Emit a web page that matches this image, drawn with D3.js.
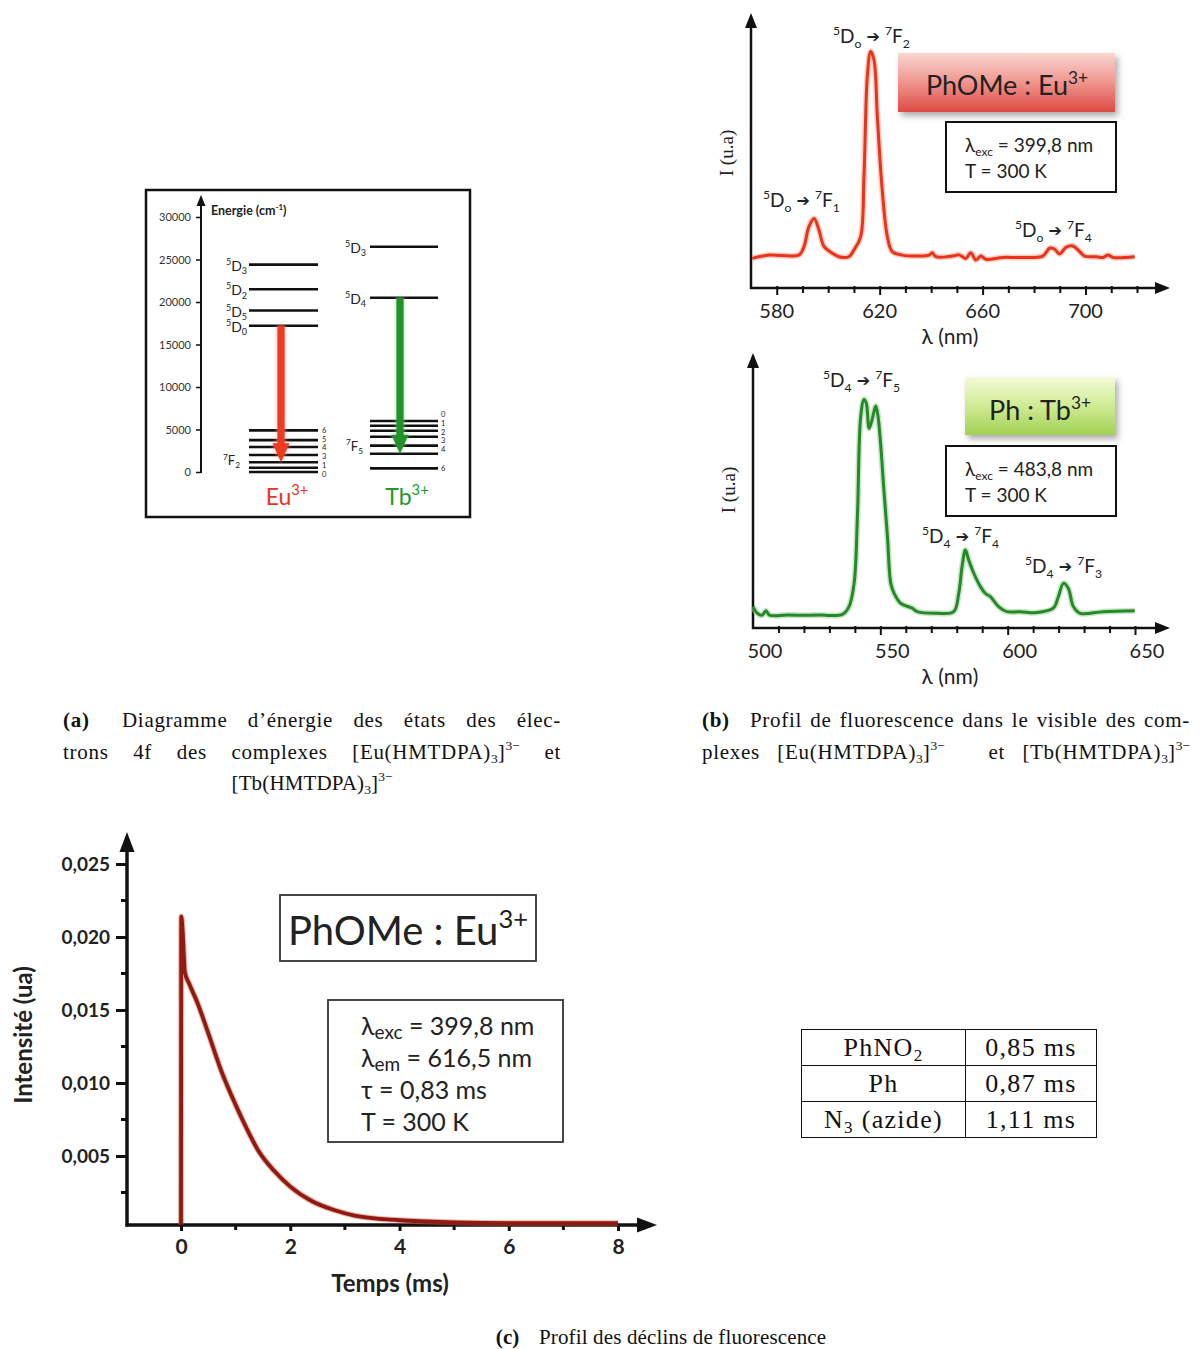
<!DOCTYPE html>
<html><head><meta charset="utf-8">
<script src="https://cdn.jsdelivr.net/npm/d3@7"></script>
<style>
body{margin:0;background:#fff;}
#wrap{position:relative;width:1200px;height:1349px;overflow:hidden;background:#fff;}
svg{position:absolute;left:0;top:0;}
svg text{white-space:pre;}
.cap{position:absolute;font-family:"Liberation Serif","Times New Roman",serif;font-size:21px;letter-spacing:0.15px;line-height:31.5px;color:#111;}
.cap div{white-space:nowrap;}
.just{text-align:justify;text-align-last:justify;letter-spacing:0.7px;}
.cap sup{font-size:13.5px;vertical-align:9px;line-height:0;letter-spacing:0;}
.cap sub{font-size:13.5px;vertical-align:-4px;line-height:0;letter-spacing:0;}
.sp{display:inline-block;}
table.tau{position:absolute;left:801px;top:1029px;border-collapse:collapse;font-family:"Liberation Serif","Times New Roman",serif;font-size:26px;letter-spacing:1.3px;color:#111;}
table.tau td{border:1.2px solid #111;height:35px;padding:0;text-align:center;line-height:35px;}
table.tau sub{font-size:17px;vertical-align:-5px;line-height:0;}
</style></head>
<body><div id="wrap"></div>
<script>
// ---------------- DATA ----------------
// (a) energy diagram (cm-1)
const energyTicks = [0, 5000, 10000, 15000, 20000, 25000, 30000];
const euLevelsD = [17200, 19000, 21500, 24400];
const euLabelsD = ['0', '5', '2', '3'];
const euLevelsF = [0, 500, 1150, 2000, 2950, 3750, 4900];
const euLabelsF = ['0', '1', '', '3', '4', '5', '6'];
const tbLevelsD = [20500, 26500];
const tbLabelsD = ['4', '3'];
const tbLevelsF = [6000, 5450, 4860, 4150, 3100, 2150, 430];
const tbLabelsF = ['0', '1', '2', '3', '4', '', '6'];
const euTransition = [17200, 1150];
const tbTransition = [20500, 2150];

// (b) emission spectra
const redLambda = [570.5, 577, 588.7, 590.6, 592.5, 594.5, 596.4, 598.4, 601.6, 604.2, 608, 610, 612.6, 613.9, 615.2, 616.5, 617.8, 619.1, 621, 623, 624.9, 628.8, 635.3, 639.2, 640.5, 641.8, 648.3, 650.9, 653.5, 655.4, 657.4, 659.3, 661.3, 667.8, 674.3, 683.4, 686, 688, 689.9, 692.5, 695.1, 697.7, 699.6, 704.2, 706.8, 708.7, 710.7, 719.1];
const redI = [12.6, 14.0, 14.1, 17.6, 26.1, 29.6, 24.7, 17.6, 14.8, 13.3, 13.3, 16.2, 21.8, 47.4, 89.9, 100.6, 97, 72.9, 41.7, 21.8, 15.5, 14, 13.6, 14, 15, 13.3, 13.6, 14.1, 12.6, 15, 11.9, 13.6, 12.2, 13, 13, 13.6, 16.9, 16.5, 14.5, 17.4, 17.9, 15.5, 13.6, 13.3, 13, 14, 13, 13.3];
const redTicks = [580, 590, 600, 610, 620, 630, 640, 650, 660, 670, 680, 690, 700, 710, 720];
const redTickLabels = [580, 620, 660, 700];

const greenLambda = [500, 501.7, 503.6, 505.1, 506.4, 513.6, 526.7, 535.1, 537.7, 539.7, 541, 542.3, 543.6, 544.5, 545.6, 546.9, 548.2, 549.1, 550.1, 551.4, 552.8, 554.1, 555.4, 558, 562.6, 564.5, 572.3, 578.8, 580.8, 582.1, 583.4, 584.7, 586.7, 589.3, 591.2, 593.2, 596.4, 599.7, 604.9, 611.4, 617.9, 619.9, 621.9, 623.8, 625.8, 628.4, 637.5, 649.9];
const greenI = [9.3, 6.4, 5.6, 7.5, 5.6, 5.6, 5.6, 5.9, 9.3, 19.4, 48.4, 91.9, 99.4, 97.7, 86.8, 91.2, 96.5, 91.9, 80.3, 60, 39.7, 19.4, 15.1, 10.7, 8.6, 7.1, 6.4, 7.1, 15.1, 26.7, 33.9, 29.6, 23.8, 18, 15.1, 13.6, 9.3, 7.1, 7.1, 6.7, 8.6, 13.6, 19.4, 17.3, 9.3, 6.4, 7.1, 7.5];
const greenTicks = [510, 520, 530, 540, 550, 560, 570, 580, 590, 600, 610, 620, 630, 640, 650];
const greenTickLabels = [500, 550, 600, 650];

// (c) decay
const decayT = [0, 0.005, 0.03, 0.07, 0.15, 0.3, 0.5, 0.75, 1.0, 1.2, 1.41, 1.7, 2.0, 2.4, 2.8, 3.2, 4.0, 5.0, 6.0, 8.0];
const decayI = [0.0003, 0.0214, 0.0204, 0.0176, 0.0168, 0.0155, 0.0134, 0.0107, 0.0085, 0.0069, 0.0054, 0.0040, 0.0029, 0.0019, 0.0013, 0.0009, 0.0006, 0.00045, 0.0004, 0.0004];
const decayYTicks = [0.005, 0.010, 0.015, 0.020, 0.025];
const decayYMinor = [0.0025, 0.0075, 0.0125, 0.0175, 0.0225];
const decayXTicks = [0, 2, 4, 6, 8];
const decayXMinor = [1, 3, 5, 7];

// table
const tableRows = [['PhNO<sub>2</sub>', '0,85 ms'], ['Ph', '0,87 ms'], ['N<sub>3</sub> (azide)', '1,11 ms']];

// ---------------- DRAW ----------------
const wrap = d3.select('#wrap');
const svg = wrap.append('svg').attr('width', 1200).attr('height', 1349);
const defs = svg.append('defs');
function lg(id, stops) {
  const g = defs.append('linearGradient').attr('id', id).attr('x1', 0).attr('y1', 0).attr('x2', 0).attr('y2', 1);
  stops.forEach(([o, c]) => g.append('stop').attr('offset', o).attr('stop-color', c));
}
lg('gRed', [[0, '#f9d6d1'], [0.45, '#f19c95'], [1, '#dd4a44']]);
lg('gGreen', [[0, '#f3fbd8'], [0.45, '#d3ed9b'], [1, '#a2d052']]);
const sh = defs.append('filter').attr('id', 'shadow').attr('x', '-10%').attr('y', '-10%').attr('width', '130%').attr('height', '150%');
sh.append('feDropShadow').attr('dx', 3).attr('dy', 4).attr('stdDeviation', 3).attr('flood-color', '#666').attr('flood-opacity', 0.55);
defs.append('filter').attr('id', 'blur').attr('x', '-50%').attr('y', '-20%').attr('width', '200%').attr('height', '140%')
  .append('feGaussianBlur').attr('stdDeviation', 2);

const SANS = 'Lato, "Open Sans", sans-serif';
const SERIF = '"Liberation Serif", "Times New Roman", serif';

function rich(sel, parts, fs) {
  let cur = 0;
  parts.forEach(p => {
    const [t, s] = Array.isArray(p) ? p : [p, null];
    const target = s === 'sup' ? -0.42 * fs : s === 'sub' ? 0.24 * fs : 0;
    sel.append('tspan').attr('dy', target - cur).attr('font-size', s ? fs * 0.64 : fs).text(t);
    cur = target;
  });
  return sel;
}
function headUp(g, x, tipY, w, l) {
  g.append('path').attr('d', `M${x},${tipY} L${x - w / 2},${tipY + l} L${x + w / 2},${tipY + l} Z`).attr('fill', '#111');
}
function headRight(g, tipX, y, w, l) {
  g.append('path').attr('d', `M${tipX},${y} L${tipX - l},${y - w / 2} L${tipX - l},${y + w / 2} Z`).attr('fill', '#111');
}

// ===== Panel (a) =====
(function () {
  const g = svg.append('g');
  g.append('rect').attr('x', 146).attr('y', 190).attr('width', 324).attr('height', 327)
    .attr('fill', 'none').attr('stroke', '#111').attr('stroke-width', 2.5);
  const yE = d3.scaleLinear().domain([0, 30000]).range([472, 217]);
  const ax = g.append('g').attr('transform', 'translate(201,0)')
    .call(d3.axisLeft(yE).tickValues(energyTicks).tickSize(5).tickPadding(5).tickFormat(d3.format('d')));
  ax.select('.domain').remove();
  ax.selectAll('line').attr('stroke', '#111').attr('stroke-width', 1.5);
  ax.selectAll('text').attr('font-family', SANS).attr('font-size', 11).attr('fill', '#333');
  g.append('line').attr('x1', 201).attr('x2', 201).attr('y1', yE(0) + 1).attr('y2', 205).attr('stroke', '#111').attr('stroke-width', 2);
  headUp(g, 201, 195, 9, 11);
  rich(g.append('text').attr('x', 211).attr('y', 215).attr('font-family', SANS).attr('font-weight', 700).attr('fill', '#222'),
    ['Energie (cm', ['-1', 'sup'], ')'], 12.5);

  function levels(vals, x1, x2) {
    g.append('g').selectAll('line').data(vals).join('line')
      .attr('x1', x1).attr('x2', x2).attr('y1', d => yE(d)).attr('y2', d => yE(d))
      .attr('stroke', '#111').attr('stroke-width', 2.6);
  }
  levels(euLevelsD, 249, 318);
  levels(euLevelsF, 249, 318);
  levels(tbLevelsD, 370, 438);
  levels(tbLevelsF, 370, 438);

  function dLabel(x, e, sub) {
    rich(g.append('text').attr('x', x).attr('y', yE(e) + 6).attr('text-anchor', 'end')
      .attr('font-family', SANS).attr('fill', '#222'), [['5', 'sup'], 'D', [sub, 'sub']], 14);
  }
  euLevelsD.forEach((e, i) => dLabel(247, e, euLabelsD[i]));
  tbLevelsD.forEach((e, i) => dLabel(366, e, tbLabelsD[i]));
  function fLabels(vals, labs, x, spread) {
    const items = vals.map((v, i) => ({ y0: yE(v), t: labs[i] })).filter(d => d.t !== '').sort((a, b) => a.y0 - b.y0);
    let clusters = items.map(d => [d]);
    const place = c => { const m = d3.mean(c, d => d.y0); c.forEach((d, i) => d.y = m + (i - (c.length - 1) / 2) * spread); };
    clusters.forEach(place);
    let merged = true;
    while (merged) {
      merged = false;
      for (let i = 1; i < clusters.length; i++) {
        const a = clusters[i - 1], b = clusters[i];
        if (b[0].y - a[a.length - 1].y < spread) {
          const c = a.concat(b); place(c); clusters.splice(i - 1, 2, c); merged = true; break;
        }
      }
    }
    g.append('g').selectAll('text').data(items).join('text')
      .attr('x', x).attr('y', d => d.y + 2.7)
      .attr('font-family', SANS).attr('font-size', 7.5).attr('fill', '#222').text(d => d.t);
  }
  fLabels(euLevelsF, euLabelsF, 322, 8.6);
  fLabels(tbLevelsF, tbLabelsF, 441, 8.6);
  rich(g.append('text').attr('x', 240).attr('y', yE(euLevelsF[2]) + 3).attr('text-anchor', 'end')
    .attr('font-family', SANS).attr('fill', '#222'), [['7', 'sup'], 'F', ['2', 'sub']], 13);
  rich(g.append('text').attr('x', 363).attr('y', yE(tbLevelsF[4]) + 5).attr('text-anchor', 'end')
    .attr('font-family', SANS).attr('fill', '#222'), [['7', 'sup'], 'F', ['5', 'sub']], 13);

  function bigArrow(x, e1, e2, col, halo) {
    const y1 = yE(e1), y2 = yE(e2), hw = 8.5, hl = 19, sw = 3.6;
    const d = `M${x - sw},${y1} L${x + sw},${y1} L${x + sw},${y2 - hl} L${x + hw},${y2 - hl} L${x},${y2} L${x - hw},${y2 - hl} L${x - sw},${y2 - hl} Z`;
    g.append('path').attr('d', d).attr('fill', halo).attr('filter', 'url(#blur)').attr('opacity', 0.8);
    g.append('path').attr('d', d).attr('fill', col);
  }
  bigArrow(281, euTransition[0], euTransition[1], '#ef3a22', '#f6a090');
  bigArrow(400, tbTransition[0], tbTransition[1], '#23912a', '#8fd090');

  rich(g.append('text').attr('x', 287).attr('y', 505).attr('text-anchor', 'middle').attr('font-family', SANS).attr('fill', '#e8352a'),
    ['Eu', ['3+', 'sup']], 23);
  rich(g.append('text').attr('x', 407).attr('y', 505).attr('text-anchor', 'middle').attr('font-family', SANS).attr('fill', '#229a2a'),
    ['Tb', ['3+', 'sup']], 23);
})();

// ===== Panel (b) spectra =====
function spectrum(opt) {
  const g = svg.append('g');
  const x = d3.scaleLinear().domain(opt.xDomain).range(opt.xRange);
  const y = d3.scaleLinear().domain([0, 100]).range(opt.yRange);
  const axY = opt.yRange[0];
  const ax = g.append('g').attr('transform', `translate(0,${axY})`)
    .call(d3.axisBottom(x).tickValues(opt.ticks).tickSize(5).tickFormat(''));
  ax.select('.domain').remove();
  ax.selectAll('line').attr('stroke', '#111').attr('stroke-width', 2).attr('y1', -2)
    .attr('y2', d => opt.labels.includes(d) ? 7 : 5);
  g.append('g').selectAll('text').data(opt.labels).join('text')
    .attr('x', d => x(d) + opt.labelDx).attr('y', axY + 30).attr('text-anchor', 'middle')
    .attr('font-family', SANS).attr('font-size', 20).attr('fill', '#222').text(d => d);
  const x0 = opt.xRange[0];
  g.append('line').attr('x1', x0).attr('x2', x0).attr('y1', axY + 1).attr('y2', opt.yTop + 12).attr('stroke', '#111').attr('stroke-width', 2.5);
  headUp(g, x0, opt.yTop, 12, 15);
  g.append('line').attr('x1', x0 - 1).attr('x2', opt.xEnd - 12).attr('y1', axY).attr('y2', axY).attr('stroke', '#111').attr('stroke-width', 2.5);
  headRight(g, opt.xEnd, axY, 12, 15);
  const line = d3.line().x(d => x(d[0])).y(d => y(d[1])).curve(d3.curveCatmullRom.alpha(0.5));
  const pts = opt.lam.map((l, i) => [l, opt.I[i]]);
  g.append('path').attr('d', line(pts)).attr('fill', 'none').attr('stroke', opt.halo).attr('stroke-width', 6).attr('opacity', 0.55).attr('stroke-linejoin', 'round');
  g.append('path').attr('d', line(pts)).attr('fill', 'none').attr('stroke', opt.color).attr('stroke-width', 3).attr('stroke-linejoin', 'round');
  g.append('text').attr('transform', `translate(${x0 - 18},${opt.yLabelY}) rotate(-90)`).attr('text-anchor', 'middle')
    .attr('font-family', SERIF).attr('font-size', 19).attr('fill', '#222').text('I (u.a)');
  g.append('text').attr('x', 950).attr('y', axY + 56).attr('text-anchor', 'middle')
    .attr('font-family', SANS).attr('font-size', 21).attr('fill', '#222').text('λ (nm)');
  return g;
}
function peakLabel(g, xp, yp, d, f) {
  const fs = 19;
  const t = g.append('text').attr('x', xp).attr('y', yp).attr('font-family', SANS).attr('fill', '#222');
  const parts = [['5', 'sup'], ['D', null], [d, 'sub'], [' ➔ ', 'arrow'], ['7', 'sup'], ['F', null], [f, 'sub']];
  let cur = 0;
  parts.forEach(([tx, s]) => {
    const target = s === 'sup' ? -0.42 * fs : s === 'sub' ? 0.24 * fs : s === 'arrow' ? -1 : 0;
    const ts = t.append('tspan').attr('dy', target - cur).attr('font-size', (s === 'sup' || s === 'sub') ? fs * 0.64 : fs).text(tx);
    if (s === 'arrow') ts.attr('font-size', 16).attr('font-family', '"DejaVu Sans", sans-serif');
    cur = target;
  });
}
function infoBox(g, x, yb, w, h, lam) {
  g.append('rect').attr('x', x).attr('y', yb).attr('width', w).attr('height', h).attr('fill', '#fff').attr('stroke', '#111').attr('stroke-width', 2);
  const t1 = g.append('text').attr('x', x + 19).attr('y', yb + 30).attr('font-family', SANS).attr('fill', '#222');
  t1.append('tspan').attr('font-size', 19).text('λ');
  t1.append('tspan').attr('font-size', 12).attr('dy', 4).text('exc');
  t1.append('tspan').attr('font-size', 19).attr('dy', -4).text(' = ' + lam);
  g.append('text').attr('x', x + 19).attr('y', yb + 56).attr('font-family', SANS).attr('font-size', 19).attr('fill', '#222').text('T = 300 K');
}
function titleBox(g, x, yb, w, h, fill, parts, cx, by) {
  g.append('rect').attr('x', x).attr('y', yb).attr('width', w).attr('height', h).attr('fill', fill).attr('filter', 'url(#shadow)');
  rich(g.append('text').attr('x', cx).attr('y', by).attr('text-anchor', 'middle').attr('font-family', SANS).attr('fill', '#222'), parts, 27);
}

const gR = spectrum({
  xDomain: [570, 720], xRange: [751, 1137], yRange: [288, 53], yTop: 13, xEnd: 1170,
  ticks: redTicks, labels: redTickLabels, labelDx: 0,
  lam: redLambda, I: redI, color: '#e8341c', halo: '#f8a48e', yLabelY: 153
});
peakLabel(gR, 833, 43, 'o', '2');
peakLabel(gR, 763, 207, 'o', '1');
peakLabel(gR, 1015, 237, 'o', '4');
titleBox(gR, 898, 53, 217, 59, 'url(#gRed)', ['PhOMe : Eu', ['3+', 'sup']], 1007, 95);
infoBox(gR, 946, 122, 170, 70, '399,8 nm');

const gG = spectrum({
  xDomain: [500, 650], xRange: [753, 1135], yRange: [628, 398], yTop: 353, xEnd: 1170,
  ticks: greenTicks, labels: greenTickLabels, labelDx: 12,
  lam: greenLambda, I: greenI, color: '#27882a', halo: '#98d497', yLabelY: 490
});
peakLabel(gG, 823, 387, '4', '5');
peakLabel(gG, 922, 543, '4', '4');
peakLabel(gG, 1025, 573, '4', '3');
titleBox(gG, 965, 377, 150, 58, 'url(#gGreen)', ['Ph : Tb', ['3+', 'sup']], 1040, 420);
infoBox(gG, 946, 446, 170, 70, '483,8 nm');

// ===== Panel (c) decay =====
(function () {
  const g = svg.append('g');
  const x = d3.scaleLinear().domain([-1, 8]).range([126.4, 618]);
  const y = d3.scaleLinear().domain([0, 0.025]).range([1229, 864]);
  const axY = 1225, x0 = 127;
  const fmt = d => d3.format('.3f')(d).replace('.', ',');
  const ay = g.append('g').attr('transform', `translate(${x0},0)`)
    .call(d3.axisLeft(y).tickValues(decayYTicks).tickSize(11).tickPadding(6).tickFormat(fmt));
  ay.select('.domain').remove();
  ay.selectAll('line').attr('stroke', '#111').attr('stroke-width', 3);
  ay.selectAll('text').attr('font-family', SANS).attr('font-weight', 700).attr('font-size', 19).attr('fill', '#222');
  g.append('g').selectAll('line').data(decayYMinor).join('line')
    .attr('x1', x0 - 6).attr('x2', x0).attr('y1', d => y(d)).attr('y2', d => y(d)).attr('stroke', '#111').attr('stroke-width', 3);
  const ax = g.append('g').attr('transform', `translate(0,${axY})`)
    .call(d3.axisBottom(x).tickValues(decayXTicks).tickSize(6).tickPadding(8).tickFormat(d3.format('d')));
  ax.select('.domain').remove();
  ax.selectAll('line').attr('stroke', '#111').attr('stroke-width', 3);
  ax.selectAll('text').attr('font-family', SANS).attr('font-weight', 700).attr('font-size', 21).attr('fill', '#222');
  g.append('g').selectAll('line').data(decayXMinor).join('line')
    .attr('x1', d => x(d)).attr('x2', d => x(d)).attr('y1', axY).attr('y2', axY + 5).attr('stroke', '#111').attr('stroke-width', 3);
  g.append('line').attr('x1', x0).attr('x2', x0).attr('y1', axY + 1.5).attr('y2', 848).attr('stroke', '#111').attr('stroke-width', 3.5);
  headUp(g, x0, 832, 15, 20);
  g.append('line').attr('x1', x0 - 1.5).attr('x2', 640).attr('y1', axY).attr('y2', axY).attr('stroke', '#111').attr('stroke-width', 3.5);
  headRight(g, 657, axY, 15, 20);
  const line = d3.line().x(d => x(d[0])).y(d => y(d[1])).curve(d3.curveMonotoneX);
  const pts = decayT.map((t, i) => [t, decayI[i]]);
  g.append('path').attr('d', line(pts)).attr('fill', 'none').attr('stroke', '#d9523f').attr('stroke-width', 6).attr('opacity', 0.45).attr('stroke-linejoin', 'round');
  g.append('path').attr('d', line(pts)).attr('fill', 'none').attr('stroke', '#8e1a12').attr('stroke-width', 3.8).attr('stroke-linejoin', 'round');

  g.append('text').attr('transform', 'translate(32,1035) rotate(-90)').attr('text-anchor', 'middle')
    .attr('font-family', SANS).attr('font-weight', 700).attr('font-size', 24).attr('fill', '#222').text('Intensité (ua)');
  g.append('text').attr('x', 390).attr('y', 1292).attr('text-anchor', 'middle')
    .attr('font-family', SANS).attr('font-weight', 700).attr('font-size', 24).attr('fill', '#222').text('Temps (ms)');

  g.append('rect').attr('x', 280).attr('y', 895).attr('width', 256).attr('height', 66).attr('fill', '#fff').attr('stroke', '#333').attr('stroke-width', 1.8);
  rich(g.append('text').attr('x', 408).attr('y', 945).attr('text-anchor', 'middle').attr('font-family', SANS).attr('fill', '#222'),
    ['PhOMe : Eu', ['3+', 'sup']], 40);
  g.append('rect').attr('x', 328).attr('y', 1000).attr('width', 235).attr('height', 142).attr('fill', '#fff').attr('stroke', '#333').attr('stroke-width', 1.8);
  const lines = [['exc', ' = 399,8 nm'], ['em', ' = 616,5 nm']];
  lines.forEach((l, i) => {
    const t = g.append('text').attr('x', 361).attr('y', 1035 + i * 32).attr('font-family', SANS).attr('fill', '#222');
    t.append('tspan').attr('font-size', 25).text('λ');
    t.append('tspan').attr('font-size', 19).attr('dy', 4).text(l[0]);
    t.append('tspan').attr('font-size', 25).attr('dy', -4).text(l[1]);
  });
  g.append('text').attr('x', 361).attr('y', 1099).attr('font-family', SANS).attr('font-size', 25).attr('fill', '#222').text('τ = 0,83 ms');
  g.append('text').attr('x', 361).attr('y', 1131).attr('font-family', SANS).attr('font-size', 25).attr('fill', '#222').text('T = 300 K');
})();

// ===== captions =====
wrap.append('div').attr('class', 'cap').style('left', '63px').style('top', '705px').style('width', '498px').html(
  '<div class="just"><b>(a)</b><span class="sp" style="width:12px"></span> Diagramme d’énergie des états des élec-</div>' +
  '<div class="just">trons 4f des complexes [Eu(HMTDPA)<sub>3</sub>]<sup>3−</sup> et</div>' +
  '<div style="text-align:center">[Tb(HMTDPA)<sub>3</sub>]<sup>3−</sup></div>');
wrap.append('div').attr('class', 'cap').style('left', '702px').style('top', '705px').style('width', '488px').html(
  '<div class="just"><b>(b)</b><span class="sp" style="width:12px"></span> Profil de fluorescence dans le visible des com-</div>' +
  '<div class="just">plexes [Eu(HMTDPA)<sub>3</sub>]<sup>3−</sup><span class="sp" style="width:26px"></span> et [Tb(HMTDPA)<sub>3</sub>]<sup>3−</sup></div>');
wrap.append('div').attr('class', 'cap').style('left', '400px').style('top', '1322px').style('width', '522px').html(
  '<div style="text-align:center"><b>(c)</b><span class="sp" style="width:14px"></span> Profil des déclins de fluorescence</div>');

// ===== table =====
const tbl = wrap.append('table').attr('class', 'tau');
tableRows.forEach(r => {
  const tr = tbl.append('tr');
  tr.append('td').style('width', '163px').html(r[0]);
  tr.append('td').style('width', '130px').html(r[1]);
});
</script></body></html>
